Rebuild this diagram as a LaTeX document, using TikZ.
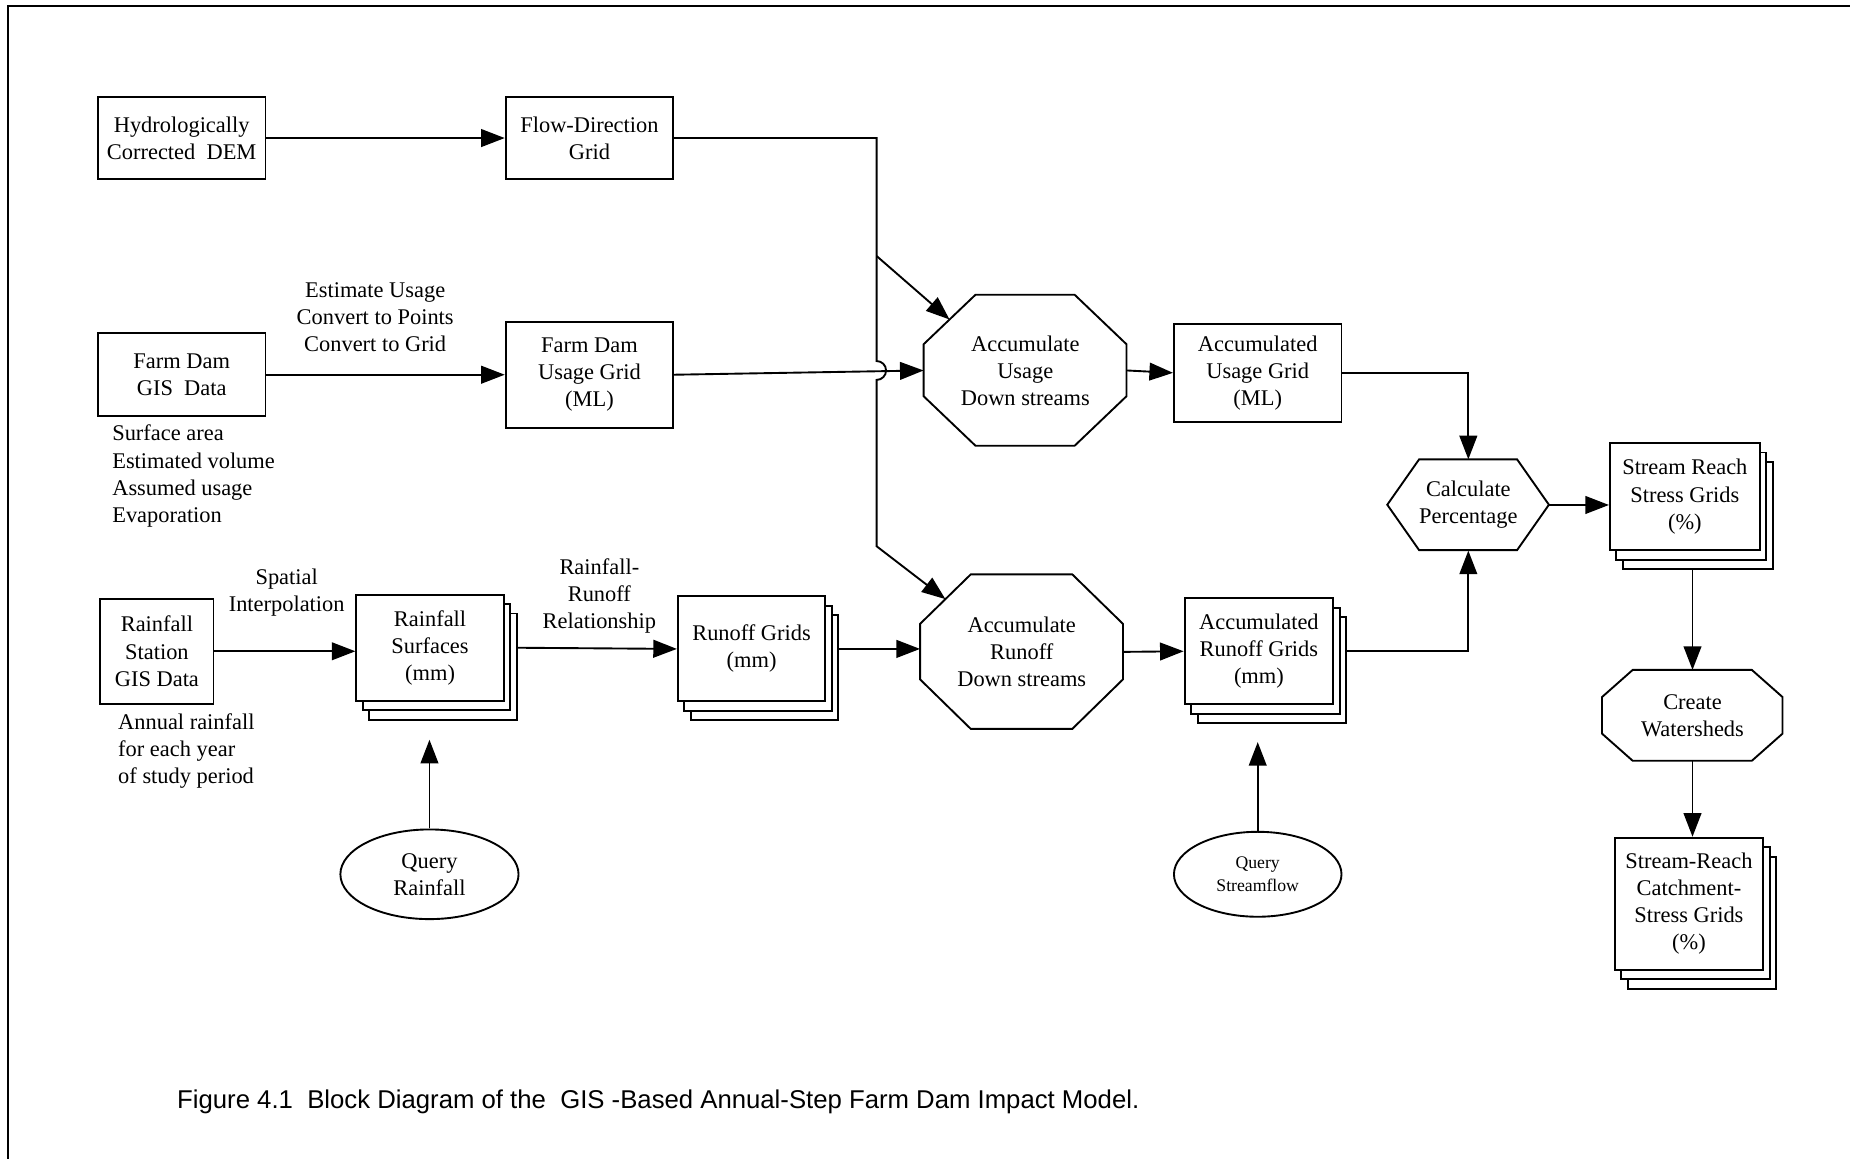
\documentclass[tikz,border=0pt]{standalone}
\usepackage{fontspec}
\setmainfont{Liberation Serif}
\setsansfont{Liberation Sans}
\usepackage{tikz}
\usetikzlibrary{positioning}
\usetikzlibrary{arrows.meta}
\usetikzlibrary{shapes.geometric}
\usetikzlibrary{shadows}
\usetikzlibrary{calc}

\begin{document}
\begin{tikzpicture}[x=1pt,y=1pt,
        font=\fontsize{19}{23}\selectfont,
        box/.style={draw,line width=1.6pt,fill=white,align=center,
          minimum width=142pt,minimum height=70pt,inner sep=1pt},
        stack/.style={box,minimum width=126pt,minimum height=90pt,
          double copy shadow={shadow xshift=5.5pt,shadow yshift=-8pt}},
        shp/.style={align=center,inner sep=0pt},
        outl/.style={line width=1.6pt,line join=miter},
        query/.style={draw,ellipse,line width=1.6pt,align=center,inner sep=0pt},
        note/.style={align=left,anchor=west,inner sep=0pt},
        lbl/.style={align=center,inner sep=0pt},
        arr/.style={line width=1.6pt,-{Triangle[length=20pt,width=15pt]}}]
      \useasboundingbox (0,0) rectangle (1568,-982);
      \draw[line width=1.8pt] (7,-982) -- (7,-5) -- (1568,-5);

      % inputs
      \node[box] (DEM) at (154,-117) {Hydrologically\\Corrected\ \ DEM};
      \node[box] (FDIR) [right=202pt of DEM] {Flow-Direction\\Grid};
      \node[box] (FDAM) [below=129pt of DEM] {Farm Dam\\GIS\ \ Data};
      \node[box,minimum height=90pt] (UG) [right=202pt of FDAM] {Farm Dam\\Usage Grid\\(ML)};
      \node[box,minimum width=96pt,minimum height=89pt] (RS) at (133,-552) {Rainfall\\Station\\GIS Data};
      \node[stack,minimum width=125pt] (RSF) at (364.5,-549) {Rainfall\\Surfaces\\(mm)};
      \node[stack,minimum width=125pt,minimum height=89pt] (RG) at (637,-550) {Runoff Grids\\(mm)};
      \node[query,minimum width=151pt,minimum height=76pt] (QR) at (364,-741) {Query\\Rainfall};

      % texts on the arrows
      \node[lbl] (EU) at (318,-269) {Estimate Usage\\Convert to Points\\Convert to Grid};
      \node[note] (FDN) at (95,-403.5) {Surface area\\Estimated volume\\Assumed usage\\Evaporation};
      \node[lbl] (SI) at (243,-502.5) {Spatial\\Interpolation};
      \node[lbl] (RR) at (508,-505) {Rainfall-\\Runoff\\Relationship};
      \node[note] (RSN) at (100,-636.5) {Annual rainfall\\for each year\\of study period};

      % accumulation
      \node[shp,minimum width=172pt,minimum height=128pt] (AU) at (869,-314) {Accumulate\\Usage\\Down streams};
      \node[shp,minimum width=172pt,minimum height=131pt] (AR) at (866,-552.5) {Accumulate\\Runoff\\Down streams};
      \node[box,minimum height=83pt] (AUG) at (1066,-316) {Accumulated\\Usage Grid\\(ML)};
      \node[stack] (ARG) at (1067,-552) {Accumulated\\Runoff Grids\\(mm)};
      \node[query,minimum width=142pt,minimum height=72pt,font=\fontsize{15}{20}\selectfont] (QS) at (1066,-741) {Query\\Streamflow};

      % stress
      \node[shp,minimum width=137pt,minimum height=77pt] (CP) at (1244.5,-428) {Calculate\\Percentage};
      \node[stack,minimum width=127pt,minimum height=91pt] (SRS) at (1428,-421) {Stream Reach\\Stress Grids\\(\%)};
      \node[shp,minimum width=153pt,minimum height=77pt] (CW) at (1434.5,-606.5) {Create\\Watersheds};
      \node[stack,minimum height=112pt] (SRC) at (1431.5,-766) {Stream-Reach\\Catchment-\\Stress Grids\\(\%)};

      \draw[outl] (AU.north west) ++(44,0) -- ++(84,0) -- ++(44,-42) -- ++(0,-44)
        -- ++(-44,-42) -- ++(-84,0) -- ++(-44,42) -- ++(0,44) -- cycle;
      \draw[outl] (AR.north west) ++(43,0) -- ++(86,0) -- ++(43,-42) -- ++(0,-47)
        -- ++(-43,-42) -- ++(-86,0) -- ++(-43,42) -- ++(0,47) -- cycle;
      \draw[outl] (CW.north west) ++(26,0) -- ++(101,0) -- ++(26,-23) -- ++(0,-31)
        -- ++(-26,-23) -- ++(-101,0) -- ++(-26,23) -- ++(0,31) -- cycle;
      \draw[outl] (CP.north west) ++(27,0) -- ++(83,0) -- ++(27,-38.5) -- ++(-27,-38.5)
        -- ++(-83,0) -- ++(-27,38.5) -- cycle;

      \coordinate (J) at (743,-217);
      \coordinate (K) at (743,-463);
      \coordinate (AUin) at ($(AU.north west)+(22,-21)$);
      \coordinate (ARin) at ($(AR.north west)+(21.5,-21)$);
      \coordinate (QRtip) at (364,-627);
      \coordinate (QStip) at (1066,-629);

      \draw[arr] (DEM) -- (FDIR);
      \draw[arr] (FDAM) -- (UG);
      \draw[arr] (FDIR.east) -| (743,-306) arc[start angle=90,end angle=-90,radius=8] -- (K) -- (ARin);
      \draw[arr] (J) -- (AUin);
      \draw[arr] (UG.east) -- (AU.west);
      \draw[arr] (RS.east) -- (RS.east -| RSF.west);
      \draw[arr] ([xshift=11pt]RSF.east) -- (RG.west);
      \draw[arr] ([xshift=11pt]RG.east) -- (AR.west |- RG.east);
      \draw[arr] (QR) -- (QRtip);
      \draw[arr] (AU.east) -- (AUG.west);
      \draw[arr] (AR.east) -- (ARG.west);
      \draw[arr] (QS) -- (QStip);
      \draw[arr] (AUG.east) -| (CP.north);
      \draw[arr] ([xshift=11pt]ARG.east) -| (CP.south);
      \draw[arr] (CP.east) -- (CP.east -| SRS.west);
      \draw[arr] ([yshift=-16pt]SRS.south -| CW.north) -- (CW.north);
      \draw[arr] (CW.south) -- (CW.south |- SRC.north);

      \node[anchor=west,inner sep=0pt,font=\sffamily\fontsize{21.8}{25}\selectfont] (CAP) at (150,-934)
        {Figure 4.1\ \ Block Diagram of the\ \ GIS -Based Annual-Step Farm Dam Impact Model.};
      \end{tikzpicture}
\end{document}
